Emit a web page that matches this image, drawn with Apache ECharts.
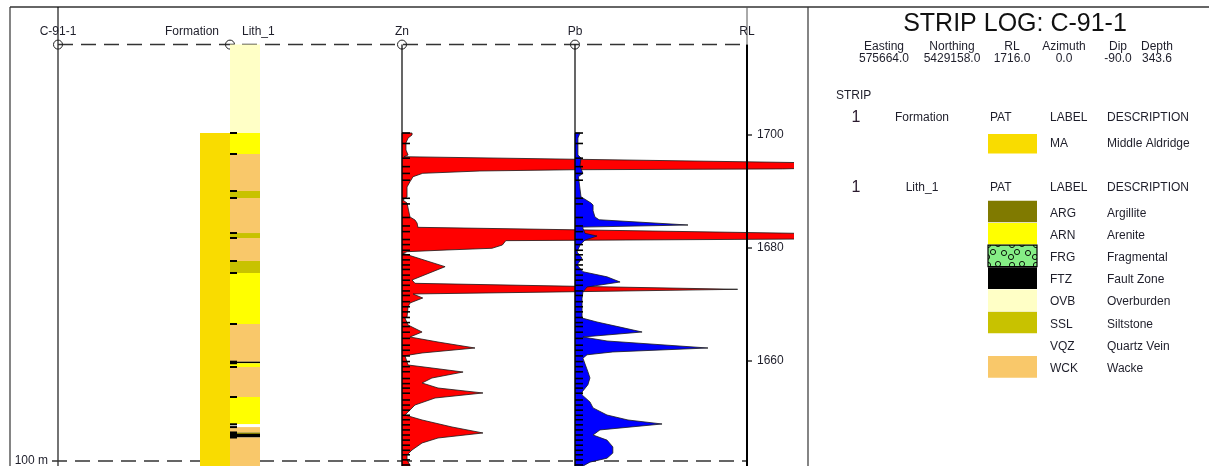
<!DOCTYPE html>
<html>
<head>
<meta charset="utf-8">
<title>Strip Log C-91-1</title>
<script src="https://cdn.jsdelivr.net/npm/echarts@6/dist/echarts.min.js"></script>
<style>
  html, body { margin: 0; padding: 0; background: #ffffff; }
  #chart { width: 1209px; height: 466px; }
</style>
</head>
<body>
<div id="chart"></div>
<script>
// ---- Hole header ----
const holeId = 'C-91-1';
const collarRL = 1716.0;
const infoHeaders = ['Easting', 'Northing', 'RL', 'Azimuth', 'Dip', 'Depth'];
const infoValues = ['575664.0', '5429158.0', '1716.0', '0.0', '-90.0', '343.6'];

// ---- RL axis ----
const rlMin = 1640;
const rlMax = 1720;
const rlStep = 20;
const rlTicks = [1700, 1680, 1660];

// ---- Section reference line ----
const sectionLineRL = 1642.3;
const sectionLineLabel = '100 m';

// ---- Formation strip (depths in m down hole) ----
const formFrom = [15.65];
const formTo = [80.0];
const formCode = ['MA'];
const formCodes = ['MA'];
const formNames = ['Middle Aldridge'];

// ---- Lithology strip (depths in m down hole) ----
const lithFrom = [0.00, 15.65, 19.36, 25.91, 27.15, 33.35, 34.23, 38.30, 40.42, 49.45, 56.12, 56.40, 57.06, 62.37, 67.20, 67.70, 68.65, 68.92, 69.54];
const lithTo   = [15.65, 19.36, 25.91, 27.15, 33.35, 34.23, 38.30, 40.42, 49.45, 56.12, 56.40, 57.06, 62.37, 67.20, 67.70, 68.65, 68.92, 69.54, 80.00];
const lithCode = ['OVB', 'ARN', 'WCK', 'SSL', 'WCK', 'SSL', 'WCK', 'SSL', 'ARN', 'WCK', 'FTZ', 'ARN', 'WCK', 'ARN', 'VQZ', 'WCK', 'ARG', 'FTZ', 'WCK'];
const lithCodes = ['ARG', 'ARN', 'FRG', 'FTZ', 'OVB', 'SSL', 'VQZ', 'WCK'];
const lithNames = ['Argillite', 'Arenite', 'Fragmental', 'Fault Zone', 'Overburden', 'Siltstone', 'Quartz Vein', 'Wacke'];

// ---- Assay sample boundaries (m down hole) ----
const sampleDepths = [15.65, 17.5, 20.1, 21.6, 22.8, 24.0, 27.2, 28.2, 30.6, 32.1, 33.1, 34.5, 35.4, 36.4, 37.2, 38.1, 39.0, 39.8, 40.8, 41.7, 42.6, 43.6, 44.4, 45.5, 46.4, 47.3, 48.3, 49.2, 49.9, 50.9, 52.0, 53.2, 54.1, 55.1, 56.1, 57.0, 57.9, 59.1, 60.0, 60.8, 61.7, 62.9, 63.8, 64.7, 65.6, 66.4, 67.3, 68.2, 69.1, 70.0, 70.9, 71.8, 72.6, 73.5, 74.4];

// ---- Zn profile (depth m, Zn %) ----
const znDepth = [15.65, 16.00, 16.53, 17.40, 18.65, 19.54, 19.84, 21.30, 22.00, 22.15, 22.37, 22.78, 23.38, 24.27, 25.20, 26.97, 27.50, 28.04, 30.51, 31.04, 31.58, 32.34, 33.75, 34.40, 34.70, 35.47, 36.05, 36.35, 36.65, 36.94, 39.31, 41.66, 42.25, 43.31, 43.73, 44.14, 44.85, 45.73, 46.44, 48.21, 48.39, 49.63, 50.87, 51.75, 52.64, 53.70, 54.58, 55.06, 56.71, 57.24, 57.95, 59.01, 59.89, 60.78, 61.66, 62.55, 63.79, 65.03, 65.56, 66.44, 67.68, 68.74, 69.63, 70.51, 71.75, 72.64, 73.52, 74.41, 76.00];
const znValue = [0.58, 0.58, 0.35, 0.23, 0.23, 0.35, 0.12, 32.0, 22.0, 9.9, 4.5, 1.2, 0.64, 0.46, 0.29, 0.29, 0.05, 0.29, 0.46, 0.75, 0.87, 0.92, 30.0, 24.0, 6.0, 5.8, 5.2, 2.6, 0.30, 0.05, 2.49, 0.58, 0.75, 19.4, 10.1, 0.64, 1.20, 0.46, 0.35, 0.29, 0.17, 0.35, 1.16, 0.46, 2.08, 4.22, 1.16, 0.17, 0.35, 1.73, 3.53, 1.73, 1.16, 2.08, 4.68, 1.91, 0.75, 0.35, 0.17, 1.16, 2.89, 4.68, 2.08, 1.16, 0.58, 0.29, 0.29, 0.46, 0.50];

// ---- Pb profile (depth m, Pb %) ----
const pbDepth = [15.65, 16.53, 19.54, 20.07, 21.50, 22.78, 23.38, 26.97, 27.15, 28.04, 28.40, 29.40, 30.51, 31.00, 31.93, 32.30, 32.50, 33.40, 33.88, 34.60, 35.50, 36.70, 37.80, 39.00, 40.20, 41.10, 42.02, 42.90, 43.80, 44.90, 48.40, 49.10, 50.00, 50.87, 51.75, 52.46, 53.70, 54.40, 54.90, 55.50, 57.90, 59.00, 60.20, 61.50, 62.00, 63.25, 64.30, 65.56, 66.44, 67.15, 68.20, 69.10, 70.00, 71.20, 72.30, 73.20, 73.90, 74.60, 76.00];
const pbValue = [0.29, 0.17, 0.17, 0.35, 0.29, 0.46, 0.20, 0.35, 0.46, 0.93, 1.05, 1.05, 1.16, 1.40, 6.57, 0.46, 0.46, 0.58, 1.28, 0.58, 0.29, 0.12, 0.41, 0.12, 0.46, 1.86, 2.62, 0.70, 0.46, 0.41, 0.41, 1.28, 2.62, 3.90, 0.46, 1.86, 7.73, 2.20, 0.70, 0.46, 0.75, 0.87, 0.75, 0.41, 0.41, 0.87, 1.05, 1.86, 3.08, 5.06, 1.45, 1.05, 1.86, 2.20, 2.20, 1.86, 0.87, 0.46, 0.40];

// ---- Styles ----
const FONT = '"Liberation Sans", Arial, Helvetica, sans-serif';
const TEXT = '#1e1e2a';
const formColor = { MA: '#F9DC00' };
const lithColor = {
  ARG: '#807A00', ARN: '#FFFF00', FRG: '#86EE86', FTZ: '#000000',
  OVB: '#FFFFC6', SSL: '#C8C200', VQZ: '#FFFFFF', WCK: '#F9C86A'
};

// Fragmental pattern: green with small open circles
function fragmentalPattern() {
  const c = document.createElement('canvas');
  c.width = 24; c.height = 20;
  const g = c.getContext('2d');
  g.fillStyle = lithColor.FRG;
  g.fillRect(0, 0, 24, 20);
  g.strokeStyle = '#000';
  g.lineWidth = 0.9;
  [[4, 5], [14, 4], [9, 12], [20, 13], [3, 17]].forEach(function (p) {
    g.beginPath(); g.arc(p[0], p[1], 2.6, 0, Math.PI * 2); g.stroke();
  });
  return { image: c, repeat: 'repeat' };
}

const chart = echarts.init(document.getElementById('chart'), null, { renderer: 'canvas' });

// Vertical scale shared by every panel: 5.65 px per metre
const GRID_TOP = 22;
const GRID_H = 452;

function grid(left, width) {
  return { left: left, top: GRID_TOP, width: width, height: GRID_H, containLabel: false, outerBoundsMode: 'none' };
}
function yAx(i, extra) {
  return Object.assign({
    gridIndex: i, type: 'value', min: rlMin, max: rlMax, show: false,
    splitLine: { show: false }
  }, extra || {});
}
function xAx(i, min, max) {
  return { gridIndex: i, type: 'value', min: min, max: max, show: false, splitLine: { show: false } };
}

// Filled assay curve drawn from the panel baseline, with sample ticks
function curveRenderer(depths, values, fill) {
  return function (params, api) {
    if (params.dataIndex !== 0) return null;
    const pts = [api.coord([0, collarRL - depths[0]])];
    for (let i = 0; i < depths.length; i++) {
      pts.push(api.coord([values[i], collarRL - depths[i]]));
    }
    pts.push(api.coord([0, collarRL - depths[depths.length - 1]]));
    const top = api.coord([0, collarRL]);
    const bot = api.coord([0, rlMin]);
    const children = [
      { type: 'polygon', shape: { points: pts }, style: { fill: fill, stroke: '#1a1a1a', lineWidth: 0.8 } },
      { type: 'line', shape: { x1: top[0], y1: top[1], x2: bot[0], y2: bot[1] }, style: { stroke: '#000', lineWidth: 1.2 } }
    ];
    sampleDepths.forEach(function (d) {
      const p = api.coord([0, collarRL - d]);
      children.push({ type: 'line', shape: { x1: p[0], y1: p[1], x2: p[0] + 8, y2: p[1] }, style: { stroke: '#000', lineWidth: 1.6 } });
    });
    return { type: 'group', children: children };
  };
}

const option = {
  animation: false,
  backgroundColor: '#ffffff',
  grid: [
    grid(200, 60),          // 0 formation + lithology
    grid(393.35, 399.65),   // 1 Zn
    grid(575, 172),         // 2 Pb
    grid(700, 47),          // 3 RL axis
    grid(58, 689)           // 4 collar / section lines
  ],
  xAxis: [xAx(0, 0, 2), xAx(1, -0.5, 22.6), xAx(2, 0, 10), xAx(3, 0, 1), xAx(4, 0, 1)],
  yAxis: [
    yAx(0), yAx(1), yAx(2),
    yAx(3, {
      show: true, position: 'right', interval: rlStep,
      axisLine: { show: false },
      axisTick: { show: false },
      axisLabel: {
        show: true, margin: 10, color: TEXT, fontSize: 12, fontFamily: FONT,
        formatter: function (v) { return rlTicks.indexOf(v) >= 0 ? String(v) : ''; }
      }
    }),
    yAx(4)
  ],
  series: [
    {
      // collar and section reference lines
      type: 'custom', name: 'guides', xAxisIndex: 4, yAxisIndex: 4, z: 1, silent: true,
      data: [[0, collarRL]],
      renderItem: function (params, api) {
        const a = api.coord([0, collarRL]);
        const b = api.coord([1, collarRL]);
        const c = api.coord([0, sectionLineRL]);
        const d = api.coord([1, sectionLineRL]);
        const dash = { stroke: '#333', lineWidth: 1.5, lineDash: [15, 8] };
        return {
          type: 'group', children: [
            { type: 'line', shape: { x1: a[0], y1: a[1], x2: b[0], y2: b[1] }, style: dash },
            { type: 'line', shape: { x1: c[0] - 6, y1: c[1], x2: d[0], y2: d[1] }, style: dash }
          ]
        };
      }
    },
    {
      type: 'custom', name: 'Formation', xAxisIndex: 0, yAxisIndex: 0, z: 3, silent: true,
      data: formFrom.map(function (f) { return [0, collarRL - f]; }),
      renderItem: function (params, api) {
        const i = params.dataIndex;
        const p0 = api.coord([0, collarRL - formFrom[i]]);
        const p1 = api.coord([1, collarRL - formTo[i]]);
        return { type: 'rect', shape: { x: p0[0], y: p0[1], width: p1[0] - p0[0], height: p1[1] - p0[1] }, style: { fill: formColor[formCode[i]] } };
      }
    },
    {
      type: 'custom', name: 'Lith_1', xAxisIndex: 0, yAxisIndex: 0, z: 3, silent: true,
      data: lithFrom.map(function (f) { return [1, collarRL - f]; }),
      renderItem: function (params, api) {
        const i = params.dataIndex;
        const p0 = api.coord([1, collarRL - lithFrom[i]]);
        const p1 = api.coord([2, collarRL - lithTo[i]]);
        const code = lithCode[i];
        const children = [{
          type: 'rect', shape: { x: p0[0], y: p0[1], width: p1[0] - p0[0], height: p1[1] - p0[1] },
          style: { fill: code === 'FRG' ? fragmentalPattern() : lithColor[code] }
        }];
        if (lithFrom[i] > 0) {
          children.push({ type: 'line', shape: { x1: p0[0], y1: p0[1], x2: p0[0] + 7, y2: p0[1] }, style: { stroke: '#000', lineWidth: 2 } });
        }
        return { type: 'group', children: children };
      }
    },
    {
      type: 'custom', name: 'Zn', xAxisIndex: 1, yAxisIndex: 1, z: 4, clip: true, silent: true,
      data: znDepth.map(function (d, i) { return [znValue[i], collarRL - d]; }),
      renderItem: curveRenderer(znDepth, znValue, '#FF0000')
    },
    {
      type: 'custom', name: 'Pb', xAxisIndex: 2, yAxisIndex: 2, z: 5, silent: true,
      data: pbDepth.map(function (d, i) { return [pbValue[i], collarRL - d]; }),
      renderItem: curveRenderer(pbDepth, pbValue, '#0000FF')
    },
    {
      // RL axis spine from the collar down, with its ticks
      type: 'custom', name: 'RL', xAxisIndex: 3, yAxisIndex: 3, z: 6, silent: true,
      data: [[1, collarRL]],
      renderItem: function (params, api) {
        const a = api.coord([1, collarRL]);
        const b = api.coord([1, rlMin]);
        const children = [
          { type: 'line', shape: { x1: a[0], y1: a[1], x2: b[0], y2: b[1] }, style: { stroke: '#000', lineWidth: 2 } }
        ];
        rlTicks.forEach(function (v) {
          const p = api.coord([1, v]);
          children.push({ type: 'line', shape: { x1: p[0], y1: p[1], x2: p[0] + 5, y2: p[1] }, style: { stroke: '#000', lineWidth: 1.2 } });
        });
        return { type: 'group', children: children };
      }
    }
  ]
};

chart.setOption(option);

// ---- Header, frame and legend ----
const collarPx = chart.convertToPixel({ gridIndex: 4 }, [0, collarRL]);
const cy = collarPx[1];
const traceX = collarPx[0];
const lithX = chart.convertToPixel({ gridIndex: 0 }, [1, collarRL])[0];
const znX = chart.convertToPixel({ gridIndex: 1 }, [0, collarRL])[0];
const pbX = chart.convertToPixel({ gridIndex: 2 }, [0, collarRL])[0];
const rlX = chart.convertToPixel({ gridIndex: 3 }, [1, collarRL])[0];
const secY = chart.convertToPixel({ gridIndex: 4 }, [0, sectionLineRL])[1];

function txt(x, y, s, opt) {
  opt = opt || {};
  return {
    type: 'text', x: x, y: y, z: opt.z || 10, silent: true,
    style: {
      text: s, fill: opt.color || TEXT, fontSize: opt.size || 12, fontFamily: FONT,
      fontWeight: opt.weight || 'normal', align: opt.align || 'left', verticalAlign: 'middle'
    }
  };
}
function ln(x1, y1, x2, y2, stroke, w, z) {
  return { type: 'line', z: z || 0, silent: true, shape: { x1: x1, y1: y1, x2: x2, y2: y2 }, style: { stroke: stroke, lineWidth: w } };
}
function circle(x, y) {
  return { type: 'circle', z: 1, silent: true, shape: { cx: x, cy: y, r: 4.5 }, style: { fill: 'none', stroke: '#222', lineWidth: 1 } };
}

const g = [];
// frame
g.push(ln(10, 7, 1209, 7, '#333', 1.5));
g.push(ln(10, 7, 10, 466, '#333', 1.2));
g.push(ln(808, 7, 808, 466, '#333', 1.2));
g.push(ln(traceX, 7, traceX, 466, '#000', 1.1));
g.push(ln(rlX, 7, rlX, cy, '#555', 1));

// column headings
const hy = cy - 12.5;
g.push(txt(traceX, hy, holeId, { align: 'center' }));
g.push(txt(lithX - 11, hy, 'Formation', { align: 'right' }));
g.push(txt(lithX + 12, hy, 'Lith_1'));
g.push(txt(znX, hy, 'Zn', { align: 'center' }));
g.push(txt(pbX, hy, 'Pb', { align: 'center' }));
g.push(txt(rlX, hy, 'RL', { align: 'center' }));
[traceX, lithX, znX, pbX].forEach(function (x) { g.push(circle(x, cy)); });
g.push(txt(48, secY, sectionLineLabel, { align: 'right' }));

// legend title and hole info
g.push(txt(1015, 24, 'STRIP LOG: ' + holeId, { align: 'center', size: 25, color: '#111' }));
const infoX = [884, 952, 1012, 1064, 1118, 1157];
infoHeaders.forEach(function (h, i) {
  g.push(txt(infoX[i], 47, h, { align: 'center' }));
  g.push(txt(infoX[i], 59, infoValues[i], { align: 'center' }));
});
g.push(txt(836, 96, 'STRIP'));

function stripHeader(y, name) {
  g.push(txt(856, y, '1', { align: 'center', size: 16, color: '#2a1a2e' }));
  g.push(txt(922, y, name, { align: 'center' }));
  g.push(txt(990, y, 'PAT'));
  g.push(txt(1050, y, 'LABEL'));
  g.push(txt(1107, y, 'DESCRIPTION'));
}
stripHeader(118, 'Formation');
formCodes.forEach(function (code, i) {
  const y0 = 134 + i * 22.2;
  g.push({ type: 'rect', z: 5, silent: true, shape: { x: 988, y: y0, width: 49, height: 19.5 }, style: { fill: formColor[code] } });
  g.push(txt(1050, y0 + 10, code));
  g.push(txt(1107, y0 + 10, formNames[i]));
});

stripHeader(188, 'Lith_1');
lithCodes.forEach(function (code, i) {
  const y0 = 200.7 + i * 22.2;
  let style = { fill: lithColor[code] };
  if (code === 'FRG') style = { fill: fragmentalPattern(), stroke: '#000', lineWidth: 1.2 };
  if (code !== 'VQZ') {
    g.push({ type: 'rect', z: 5, silent: true, shape: { x: 988, y: y0, width: 49, height: 21.6 }, style: style });
  }
  g.push(txt(1050, y0 + 12.5, code));
  g.push(txt(1107, y0 + 12.5, lithNames[i]));
});

chart.setOption({ graphic: { elements: g } });
</script>
</body>
</html>
